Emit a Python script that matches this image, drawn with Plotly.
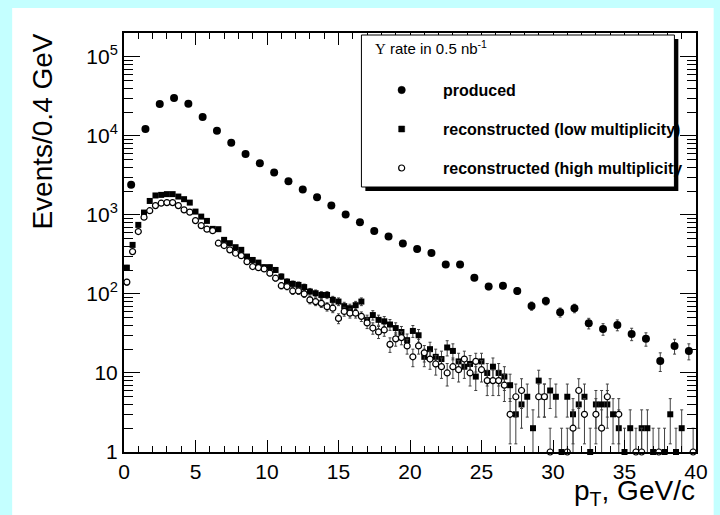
import numpy as np
import plotly.graph_objects as go

# ---------------- data ----------------
pt_produced = [0.5 + i for i in range(40)]
produced = [2400, 12200, 25200, 30000, 25400, 17300, 11600, 8200, 5900, 4500,
            3430, 2670, 2100, 1675, 1310, 1010, 808, 627, 531, 433,
            371, 330, 235, 235, 160, 124, 127, 109, 70.5, 81.5,
            58.6, 65.9, 42.6, 36, 40.5, 31.2, 27, 14.2, 22, 19]

pt_reco = [round(0.2 + 0.4 * i, 1) for i in range(100)]
reco_low = [215, 417, 747, 1070, 1500, 1760, 1790, 1830, 1830, 1705,
            1580, 1430, 1100, 951, 839, 665, 659, 483, 438, 390,
            361, 297, 269, 249, 218, 218, 201, 166, 143, 134,
            130, 122, 107, 102, 97, 97, 84, 80, 70, 66,
            72, 80, 47, 54, 47, 45, 41, 37, 33, 26,
            34, 30, 16, 20, 16, 15, 21, 19, 14, 12,
            13, 9, 14, 10, 12, 10, 9, 7, 3, 4,
            5, 2, 8, 5, 6, 5, 1, 5, 3, 4,
            5, 1, 4, 4, 4, 3, 2, 1, 2, None,
            2, 2, 1, None, 1, 3, 1, 2, None, None]
reco_high = [141, 343, 615, 935, 1130, 1310, 1405, 1430, 1430, 1310,
             1157, 1082, 847, 732, 659, 632, 438, 409, 361, 327,
             305, 256, 222, 215, 207, 183, 158, 127, 124, 109,
             109, 100, 84, 80, 76, 69, 66, 49, 60, 57,
             57, 52, 43, 37, 33, 35, 23, 27, 28, 22,
             16, 22, 18, 15, 13, 12, 10, 12, 11, 15,
             10, 14, 11, 8, 8, 8, 7, 3, 5, 6,
             None, None, 5, 5, 1, None, None, 1, 2, 6,
             3, None, 3, 2, 5, None, 3, None, None, 1,
             1, None, None, 1, None, None, None, None, None, 1]

y_tickvals = [1, 10, 100, 1000, 10000, 100000]
y_ticktext = ["1", "10", "10<sup>2</sup>", "10<sup>3</sup>", "10<sup>4</sup>", "10<sup>5</sup>"]
x_tickvals = [0, 5, 10, 15, 20, 25, 30, 35, 40]

legend_title = ("<span style='font-family:Liberation Serif, DejaVu Serif, serif'>\u03a5</span>"
                " rate in 0.5 nb<sup>-1</sup>")
legend_labels = ["produced", "reconstructed (low multiplicity)", "reconstructed (high multiplicity"]

# ---------------- layout geometry (pixels) ----------------
W, H = 720, 515
L, R, T, B = 124, 13, 33, 63
PW, PH = W - L - R, H - T - B


def px(x):
    return (x - L) / PW


def py(y):
    return (H - B - y) / PH


FONT = "Liberation Sans, Arial, Helvetica, sans-serif"


def errs(vals):
    return [None if v is None else float(np.sqrt(v)) for v in vals]


fig = go.Figure()

series = [
    (pt_produced, produced, dict(symbol="circle", size=8, color="black")),
    (pt_reco, reco_low, dict(symbol="square", size=6, color="black")),
    (pt_reco, reco_high, dict(symbol="circle", size=6, color="white",
                              line=dict(color="black", width=1.2))),
]

for xs, ys, mk in series:
    # error bars (clipped to the frame)
    fig.add_trace(go.Scatter(
        x=xs, y=ys, mode="markers",
        marker=dict(size=1, color="rgba(0,0,0,0)"),
        error_y=dict(type="data", array=errs(ys), visible=True,
                     color="#404040", thickness=1, width=1.5),
        showlegend=False, hoverinfo="skip", cliponaxis=True))
    # markers (not clipped, points at the bottom edge stay whole)
    fig.add_trace(go.Scatter(
        x=xs, y=ys, mode="markers", marker=mk,
        showlegend=False, cliponaxis=False))

shapes = []
# white panel on cyan background
shapes.append(dict(type="rect", xref="paper", yref="paper",
                   x0=px(10), x1=px(725), y0=py(520), y1=py(8),
                   fillcolor="white", line=dict(width=0), layer="below"))
# legend shadow and box
shapes.append(dict(type="rect", xref="paper", yref="paper",
                   x0=px(370), x1=px(689), y0=py(191), y1=py(39),
                   fillcolor="black", line=dict(width=0), layer="above"))
shapes.append(dict(type="rect", xref="paper", yref="paper",
                   x0=px(366), x1=px(685), y0=py(187), y1=py(35),
                   fillcolor="white", line=dict(color="black", width=1), layer="above"))
# legend markers
mx = px(407)
shapes.append(dict(type="circle", xref="paper", yref="paper", xsizemode="pixel", ysizemode="pixel",
                   xanchor=mx, yanchor=py(90), x0=-3.7, x1=3.7, y0=-3.7, y1=3.7,
                   fillcolor="black", line=dict(color="black", width=0.5), layer="above"))
shapes.append(dict(type="rect", xref="paper", yref="paper", xsizemode="pixel", ysizemode="pixel",
                   xanchor=mx, yanchor=py(129), x0=-3, x1=3, y0=-3, y1=3,
                   fillcolor="black", line=dict(color="black", width=0.5), layer="above"))
shapes.append(dict(type="circle", xref="paper", yref="paper", xsizemode="pixel", ysizemode="pixel",
                   xanchor=mx, yanchor=py(168), x0=-3, x1=3, y0=-3, y1=3,
                   fillcolor="white", line=dict(color="black", width=1.2), layer="above"))

annotations = []
annotations.append(dict(text=legend_title, x=px(378), y=py(48), xref="paper", yref="paper",
                        xanchor="left", yanchor="middle", showarrow=False,
                        font=dict(family=FONT, size=15, color="black")))
for lab, yy in zip(legend_labels, [90, 129, 168]):
    annotations.append(dict(text="<b>" + lab + "</b>", x=px(447), y=py(yy), xref="paper", yref="paper",
                            xanchor="left", yanchor="middle", showarrow=False,
                            font=dict(family=FONT, size=16, color="black")))
# axis titles
annotations.append(dict(text="Events/0.4 GeV", x=px(40), y=py(32), xref="paper", yref="paper",
                        xanchor="center", yanchor="top", textangle=-90, showarrow=False,
                        font=dict(family=FONT, size=28, color="black")))
annotations.append(dict(text="p<sub>T</sub>, GeV/c", x=px(708), y=py(493), xref="paper", yref="paper",
                        xanchor="right", yanchor="middle", showarrow=False,
                        font=dict(family=FONT, size=28, color="black")))

fig.update_layout(
    width=W, height=H,
    margin=dict(l=L, r=R, t=T, b=B, pad=0),
    paper_bgcolor="#c4ffff",
    plot_bgcolor="white",
    shapes=shapes,
    annotations=annotations,
    showlegend=False,
    hovermode=False,
    font=dict(family=FONT, color="black"),
)

fig.update_xaxes(
    range=[0, 40], tickmode="array", tickvals=x_tickvals,
    ticks="inside", ticklen=12, tickwidth=1, tickcolor="black",
    minor=dict(ticks="inside", ticklen=6, dtick=1, tick0=0, tickcolor="black", tickwidth=1),
    showline=True, linewidth=2, linecolor="black", mirror="ticks",
    showgrid=False, zeroline=False,
    tickfont=dict(family=FONT, size=21, color="black"),
)

minor_y = [m * 10 ** d for d in range(0, 6) for m in range(2, 10) if m * 10 ** d < 2e5]
fig.update_yaxes(
    type="log", range=[0, np.log10(2e5)],
    tickmode="array", tickvals=y_tickvals, ticktext=y_ticktext,
    ticks="inside", ticklen=16, tickwidth=1, tickcolor="black",
    minor=dict(ticks="inside", ticklen=9, tickmode="array", tickvals=minor_y,
               tickcolor="black", tickwidth=1),
    showline=True, linewidth=2, linecolor="black", mirror="ticks",
    showgrid=False, zeroline=False,
    tickfont=dict(family=FONT, size=21, color="black"),
)

fig.write_html("out.html", config={"displayModeBar": False},
               post_script="document.body.style.margin='0px';document.body.style.background='#c4ffff';")
